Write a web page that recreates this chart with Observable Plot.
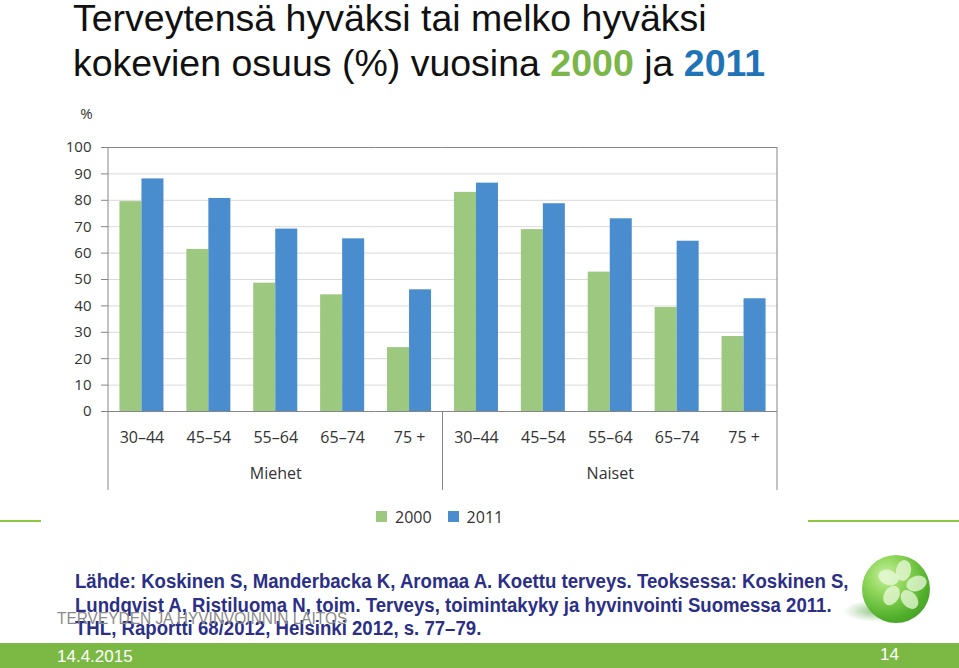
<!DOCTYPE html>
<html>
<head>
<meta charset="utf-8">
<script src="https://cdn.jsdelivr.net/npm/d3@7"></script>
<script src="https://cdn.jsdelivr.net/npm/@observablehq/plot@0.6"></script>
<style>
  html, body { margin: 0; padding: 0; background: #fff; }
  body { width: 959px; height: 668px; position: relative; overflow: hidden; font-family: "Liberation Sans", Arial, sans-serif; }
  #title { position: absolute; left: 73px; top: -4px; font-size: 37.5px; line-height: 45px; color: #111; white-space: nowrap; }
  #title .g { color: #7ab648; font-weight: bold; }
  #title .b { color: #1f73b7; font-weight: bold; }
  #chart { position: absolute; left: 0; top: 95px; }
  #legend { position: absolute; left: 376px; top: 500px; }
  .hline { position: absolute; height: 2px; background: #8dc63f; top: 520px; }
  #source { position: absolute; left: 75px; top: 570px; font-family: "Liberation Sans", Arial, sans-serif; font-weight: bold; font-size: 20px; line-height: 23.5px; color: #2b2f86; white-space: nowrap; transform: scaleX(0.93); transform-origin: 0 0; }
  #org { position: absolute; left: 57px; top: 610px; font-family: "Liberation Sans", sans-serif; font-size: 16px; color: #8a8a8a; white-space: nowrap; transform: scaleX(0.965); transform-origin: 0 0; }
  #bar { position: absolute; left: 0; top: 643px; width: 959px; height: 25px; background: #7cb944; }
  #date { position: absolute; left: 57px; top: 647px; font-size: 17px; color: #fff; }
  #page { position: absolute; left: 880px; top: 645px; font-size: 17px; color: #fff; }
  #shadow { position: absolute; left: 843px; top: 600px; width: 66px; height: 22px; border-radius: 50%; background: radial-gradient(ellipse at center, rgba(60,150,40,0.55), rgba(60,150,40,0) 70%); }
  #ball { position: absolute; left: 862px; top: 555px; width: 68px; height: 68px; border-radius: 50%;
    background: radial-gradient(circle at 35% 30%, #c8f0a0 0%, #8fd65a 30%, #52b02c 65%, #34901f 100%); }
  .petal { position: absolute; width: 15px; height: 21px; border-radius: 50%; background: rgba(235,250,220,0.75); }
</style>
</head>
<body>
<div id="title">Terveytensä hyväksi tai melko hyväksi<br>kokevien osuus (%) vuosina <span class="g">2000</span> ja <span class="b">2011</span></div>
<div id="chart"></div>
<div class="hline" style="left:0;width:41px"></div>
<div class="hline" style="left:808px;width:151px"></div>
<div id="legend"></div>
<div id="source">Lähde: Koskinen S, Manderbacka K, Aromaa A. Koettu terveys. Teoksessa: Koskinen S,<br>Lundqvist A, Ristiluoma N, toim. Terveys, toimintakyky ja hyvinvointi Suomessa 2011.<br>THL, Raportti 68/2012, Helsinki 2012, s. 77–79.</div>
<div id="org">TERVEYDEN JA HYVINVOINNIN LAITOS</div>
<div id="shadow"></div>
<div id="ball">
  <div class="petal" style="left:34px;top:5px;transform:rotate(10deg)"></div>
  <div class="petal" style="left:47px;top:18px;transform:rotate(70deg)"></div>
  <div class="petal" style="left:40px;top:34px;transform:rotate(140deg)"></div>
  <div class="petal" style="left:22px;top:30px;transform:rotate(210deg)"></div>
  <div class="petal" style="left:19px;top:12px;transform:rotate(290deg)"></div>
</div>
<div id="bar"></div>
<div id="date">14.4.2015</div>
<div id="page">14</div>
<script>
// ---- data ----
const sexes = ["Miehet", "Naiset"];
const ages = ["30–44", "45–54", "55–64", "65–74", "75 +"];
const years = ["2000", "2011"];
const men2000 = [79.5, 61.4, 48.6, 44.2, 24.2];
const men2011 = [88.1, 80.7, 69.1, 65.4, 46.1];
const women2000 = [83.0, 68.9, 52.8, 39.4, 28.4];
const women2011 = [86.5, 78.7, 73.0, 64.5, 42.7];
const yTicks = [0, 10, 20, 30, 40, 50, 60, 70, 80, 90, 100];
const yUnit = "%";
const colors = ["#9cc87f", "#4a8dcf"];

const series = {Miehet: {"2000": men2000, "2011": men2011}, Naiset: {"2000": women2000, "2011": women2011}};
const keys = [];
const rows = [];
for (const s of sexes) {
  ages.forEach((a, i) => {
    const key = s + "|" + a;
    keys.push(key);
    for (const y of years) rows.push({key, sex: s, age: a, year: y, value: series[s][y][i]});
  });
}
const groupLabels = sexes.map(s => ({key: s + "|" + ages[2], label: s}));

const font = "'Open Sans', sans-serif";
const plot = Plot.plot({
  width: 959,
  height: 410,
  marginLeft: 108,
  marginRight: 182,
  marginTop: 52,
  marginBottom: 94,
  style: {fontFamily: font, fontSize: "16px", color: "#333", background: "transparent"},
  fx: {domain: keys, padding: 0, round: false, label: null},
  x: {domain: years, paddingInner: 0, paddingOuter: 0.52, round: false, axis: null},
  y: {domain: [0, 100]},
  color: {domain: years, range: colors},
  marks: [
    Plot.gridY(yTicks, {stroke: "#d9d9d9", strokeOpacity: 1}),
    Plot.barY(rows, {fx: "key", x: "year", y: "value", fill: "year"}),
    Plot.ruleY([0], {stroke: "#868686"}),
    Plot.ruleY([100], {stroke: "#868686"}),
    Plot.axisY(yTicks, {tickSize: 7, tickPadding: 10, stroke: "#868686", label: null, fill: "#333", fontSize: 15}),
    Plot.text([{key: keys[0], label: yUnit}], {fx: "key", text: "label", frameAnchor: "top-left", textAnchor: "middle", dx: -22, dy: -39, fill: "#333", fontSize: 15}),
    Plot.axisFx({anchor: "bottom", tickSize: 0, tickPadding: 20, label: null, tickFormat: d => d.split("|")[1], fill: "#333"}),
    Plot.text(groupLabels, {fx: "key", text: "label", frameAnchor: "bottom", dy: 67, fill: "#333", fontSize: 16})
  ]
});
document.getElementById("chart").appendChild(plot);

// vertical divider lines using the fx scale
const fx = plot.scale("fx");
const svg = d3.select(plot);
const bw = fx.bandwidth;
const yTop = 52, yBot = 410 - 94, yExt = yBot + 79;
const divX = [fx.apply(keys[0]), fx.apply(keys[5]), fx.apply(keys[9]) + bw];
svg.append("g").selectAll("line").data(divX).join("line")
  .attr("x1", d => d).attr("x2", d => d)
  .attr("y1", (d, i) => i === 1 ? yBot : yTop).attr("y2", yExt)
  .attr("stroke", "#868686");

// legend
const leg = Plot.legend({color: {domain: years, range: colors}, swatchSize: 11, swatchWidth: 11, swatchHeight: 11,
  style: {fontFamily: font, fontSize: "16px", color: "#333"}});
document.getElementById("legend").appendChild(leg);
</script>
</body>
</html>
